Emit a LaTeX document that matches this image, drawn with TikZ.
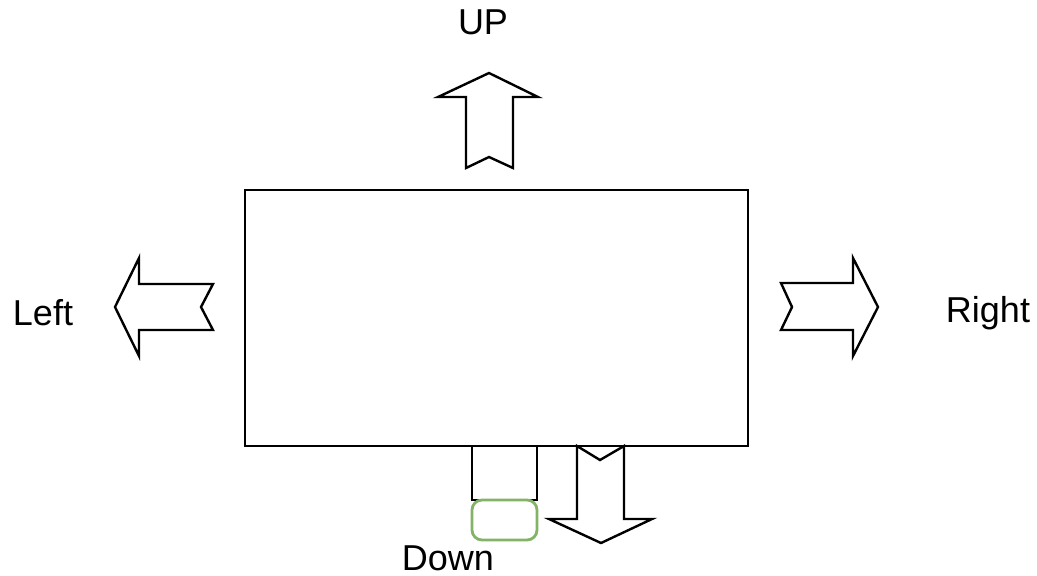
\documentclass[tikz,border=0pt]{standalone}
\usepackage{fontspec}
\setmainfont{Liberation Sans}
\definecolor{boxgreen}{HTML}{82B366}
\begin{document}
\begin{tikzpicture}[x=0.5pt, y=-0.5pt, line width=1.2pt, line join=miter,
  every node/.style={inner sep=1pt, font=\fontsize{18}{20}\selectfont}]
  \useasboundingbox (0,0) rectangle (1037,575);
  % main box
  \draw (245,190) rectangle (748,446);
  % up
  \draw (489,73) -- (538,97) -- (513,97) -- (513,168) -- (489,157) -- (466,168) -- (466,97) -- (438,97) -- cycle;
  \node (up) at (483,22) {UP};
  % left
  \draw (115,307) -- (139,258) -- (139,284) -- (213,284) -- (201,307) -- (213,330) -- (139,330) -- (139,356) -- cycle;
  \node (left) at (43,313) {Left};
  % right
  \draw (878,307) -- (853,258) -- (853,283) -- (781,283) -- (792,307) -- (781,330) -- (853,330) -- (853,356) -- cycle;
  \node (right) at (988,313) {Right};
  % down
  \draw (472,446) rectangle (537,500);
  \draw[boxgreen, line width=1.4pt, rounded corners=5pt] (472,500) rectangle (537,540);
  \draw (577,446) -- (600,460) -- (624,446) -- (624,519) -- (652,519) -- (601,543) -- (549,519) -- (577,519) -- cycle;
  \node (down) at (448,558) {Down};
\end{tikzpicture}
\end{document}
